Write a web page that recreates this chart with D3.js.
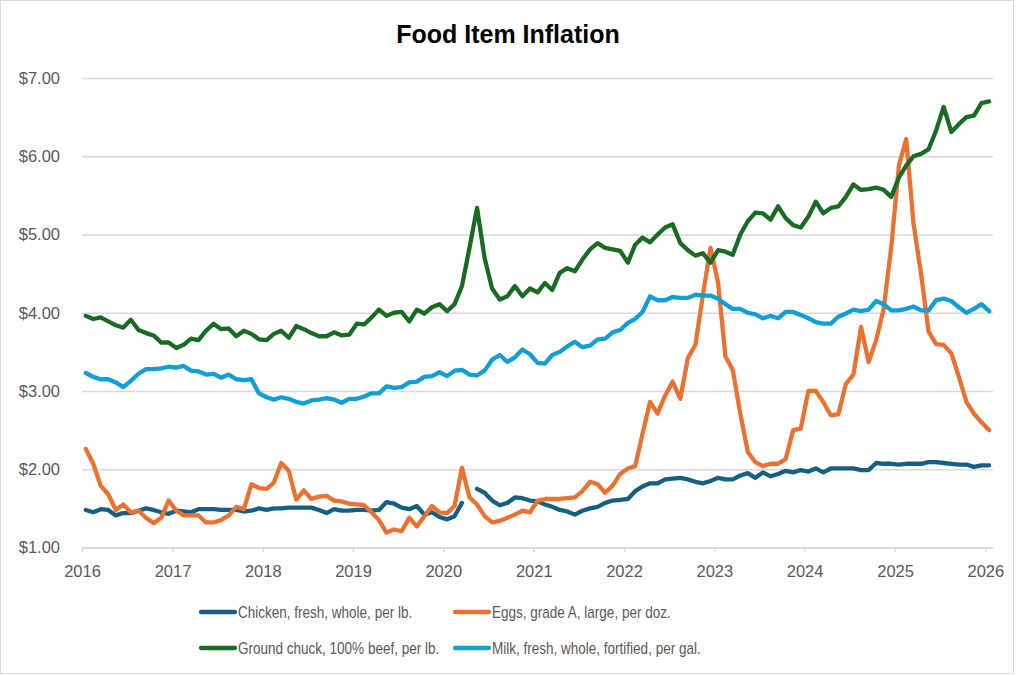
<!DOCTYPE html>
<html>
<head>
<meta charset="utf-8">
<script src="https://cdn.jsdelivr.net/npm/d3@7"></script>
<style>
  body { margin: 0; background: #fff; }
  svg { display: block; }
</style>
</head>
<body>
<svg id="chart" width="1017" height="676"></svg>
<script>
// monthly average prices, Jan 2016 .. Jan 2026
const seriesNames = [
  "Chicken, fresh, whole, per lb.",
  "Eggs, grade A, large, per doz.",
  "Ground chuck, 100% beef, per lb.",
  "Milk, fresh, whole, fortified, per gal."
];

const chicken = [
  1.48,1.45,1.49,1.48,1.41,1.44,1.44,1.47,1.50,1.48,1.45,1.43,
  1.47,1.46,1.45,1.49,1.49,1.49,1.48,1.48,1.48,1.46,1.47,1.50,
  1.48,1.50,1.50,1.51,1.51,1.51,1.51,1.48,1.44,1.49,1.47,1.47,
  1.48,1.48,1.47,1.48,1.58,1.56,1.51,1.49,1.53,1.42,1.45,1.39,
  1.36,1.40,1.57,null,1.75,1.70,1.60,1.54,1.57,1.64,1.63,1.60,
  1.59,1.55,1.52,1.48,1.46,1.42,1.47,1.50,1.52,1.57,1.60,1.61,
  1.62,1.72,1.78,1.82,1.82,1.87,1.88,1.89,1.87,1.84,1.82,1.85,
  1.89,1.87,1.87,1.92,1.95,1.89,1.96,1.91,1.94,1.98,1.96,1.99,
  1.97,2.01,1.96,2.01,2.01,2.01,2.01,1.99,1.99,2.08,2.07,2.07,
  2.06,2.07,2.07,2.07,2.09,2.09,2.08,2.07,2.06,2.06,2.03,2.05,
  2.05
];

const eggs = [
  2.26,2.07,1.79,1.68,1.48,1.55,1.45,1.47,1.38,1.31,1.38,1.60,
  1.47,1.41,1.41,1.41,1.32,1.32,1.35,1.41,1.52,1.49,1.81,1.76,
  1.75,1.83,2.08,1.98,1.61,1.73,1.62,1.65,1.66,1.60,1.59,1.56,
  1.55,1.54,1.45,1.35,1.19,1.23,1.21,1.38,1.27,1.40,1.53,1.45,
  1.44,1.53,2.02,1.64,1.55,1.40,1.32,1.34,1.38,1.42,1.47,1.45,
  1.60,1.62,1.62,1.62,1.63,1.64,1.72,1.84,1.81,1.70,1.79,1.94,
  2.01,2.04,2.45,2.86,2.71,2.94,3.12,2.90,3.42,3.59,4.23,4.83,
  4.38,3.44,3.27,2.71,2.22,2.09,2.04,2.07,2.07,2.13,2.50,2.52,
  3.00,3.00,2.86,2.69,2.70,3.09,3.21,3.82,3.37,3.65,4.05,4.84,
  5.88,6.22,5.14,4.50,3.76,3.60,3.59,3.48,3.18,2.86,2.71,2.60,
  2.50
];

const groundChuck = [
  3.96,3.92,3.94,3.89,3.84,3.81,3.91,3.78,3.74,3.71,3.62,3.62,
  3.55,3.59,3.67,3.65,3.77,3.86,3.79,3.80,3.70,3.77,3.73,3.66,
  3.65,3.73,3.77,3.68,3.83,3.79,3.74,3.70,3.70,3.75,3.71,3.72,
  3.86,3.85,3.94,4.04,3.96,4.00,4.01,3.89,4.04,3.99,4.07,4.11,
  4.02,4.11,4.34,4.83,5.34,4.70,4.31,4.17,4.21,4.34,4.21,4.31,
  4.26,4.38,4.29,4.51,4.57,4.53,4.68,4.81,4.89,4.83,4.81,4.79,
  4.64,4.87,4.96,4.90,5.00,5.09,5.13,4.89,4.80,4.73,4.76,4.64,
  4.80,4.78,4.74,5.00,5.17,5.28,5.27,5.19,5.36,5.21,5.12,5.09,
  5.23,5.42,5.27,5.34,5.36,5.48,5.64,5.57,5.58,5.60,5.57,5.48,
  5.73,5.88,6.00,6.03,6.09,6.33,6.63,6.31,6.41,6.50,6.52,6.68,
  6.70
];

const milk = [
  3.23,3.18,3.15,3.15,3.11,3.05,3.13,3.22,3.28,3.28,3.29,3.31,
  3.30,3.32,3.26,3.25,3.21,3.22,3.17,3.21,3.15,3.14,3.15,2.97,
  2.92,2.89,2.92,2.90,2.86,2.84,2.88,2.89,2.91,2.89,2.85,2.90,
  2.90,2.93,2.97,2.97,3.06,3.04,3.05,3.11,3.12,3.18,3.19,3.24,
  3.19,3.26,3.27,3.21,3.20,3.26,3.40,3.46,3.37,3.43,3.53,3.47,
  3.36,3.35,3.46,3.50,3.57,3.63,3.56,3.58,3.66,3.67,3.75,3.78,
  3.87,3.92,4.01,4.21,4.16,4.16,4.20,4.19,4.19,4.23,4.22,4.22,
  4.18,4.11,4.05,4.05,4.00,3.98,3.93,3.96,3.93,4.01,4.01,3.97,
  3.93,3.88,3.86,3.86,3.95,3.99,4.04,4.02,4.04,4.15,4.11,4.03,
  4.03,4.05,4.08,4.03,4.03,4.16,4.18,4.15,4.07,4.00,4.05,4.11,
  4.02
];

const yTicks = [1, 2, 3, 4, 5, 6, 7];
const yearTicks = [2016, 2017, 2018, 2019, 2020, 2021, 2022, 2023, 2024, 2025, 2026];

const colors = ["#156082", "#E97132", "#196B24", "#0F9ED5"];
const allSeries = [chicken, eggs, groundChuck, milk];

const months = d3.timeMonth.range(new Date(2016, 0, 1), new Date(2026, 1, 1));

const svg = d3.select("#chart");
const margin = {top: 78, right: 24, bottom: 128.5, left: 82};

svg.append("rect")
   .attr("x", 0.5).attr("y", 0.5)
   .attr("width", 1013).attr("height", 673)
   .attr("fill", "#fff")
   .attr("stroke", "#d9d9d9");

svg.append("text")
   .attr("x", 508).attr("y", 43)
   .attr("text-anchor", "middle")
   .style("font", "bold 25px 'Liberation Sans', Arial, sans-serif")
   .attr("fill", "#000")
   .text("Food Item Inflation");

const x = d3.scaleTime()
            .domain([new Date(2016, 0, 1), new Date(2026, 1, 1)])
            .range([margin.left, 993]);
const y = d3.scaleLinear()
            .domain([1, 7])
            .range([547.5, margin.top]);

// excel puts the point in the middle of its month slot
const xMid = d => (x(d) + x(d3.timeMonth.offset(d, 1))) / 2;

const gY = svg.append("g")
              .attr("transform", `translate(${margin.left},0)`)
              .call(d3.axisLeft(y)
                      .tickValues(yTicks)
                      .tickSize(-(993 - margin.left))
                      .tickPadding(22)
                      .tickFormat(d3.format("$.2f")));
gY.select(".domain").remove();
gY.selectAll(".tick line").attr("stroke", "#d9d9d9").attr("stroke-width", 1.3);
gY.selectAll(".tick text")
  .attr("fill", "#595959")
  .style("font", "16.5px 'Liberation Sans', Arial, sans-serif");

const gX = svg.append("g")
              .attr("transform", `translate(0,${y(1)})`)
              .call(d3.axisBottom(x)
                      .tickValues(yearTicks.map(yr => new Date(yr, 0, 1)))
                      .tickSize(5)
                      .tickSizeOuter(0)
                      .tickPadding(13)
                      .tickFormat(d3.timeFormat("%Y")));
gX.select(".domain").attr("stroke", "#d9d9d9").attr("stroke-width", 1.3);
gX.selectAll(".tick line").attr("stroke", "#d9d9d9").attr("stroke-width", 1.3);
gX.selectAll(".tick text")
  .attr("fill", "#595959")
  .style("font", "16.5px 'Liberation Sans', Arial, sans-serif");

const line = d3.line()
               .defined(d => d.v != null)
               .x(d => xMid(d.date))
               .y(d => y(d.v));

const gLines = svg.append("g")
                  .attr("fill", "none")
                  .attr("stroke-width", 4.3)
                  .attr("stroke-linejoin", "round")
                  .attr("stroke-linecap", "round");

allSeries.forEach((vals, k) => {
    gLines.append("path")
          .datum(vals.map((v, i) => ({date: months[i], v: v})))
          .attr("stroke", colors[k])
          .attr("d", line);
});

// legend, 2 x 2; the original uses a narrow face, so squeeze the text
const legendPos = [[200, 612], [454, 612], [200, 648], [454, 648]];
const gLegend = svg.append("g");
seriesNames.forEach((name, k) => {
    const [lx, ly] = legendPos[k];
    gLegend.append("line")
           .attr("x1", lx + 1).attr("x2", lx + 35)
           .attr("y1", ly).attr("y2", ly)
           .attr("stroke", colors[k])
           .attr("stroke-width", 4.3)
           .attr("stroke-linecap", "round");
    gLegend.append("text")
           .attr("transform", `translate(${lx + 38},${ly}) scale(0.845,1)`)
           .attr("dy", "0.35em")
           .attr("fill", "#595959")
           .style("font", "16px 'Liberation Sans', Arial, sans-serif")
           .text(name);
});
</script>
</body>
</html>
